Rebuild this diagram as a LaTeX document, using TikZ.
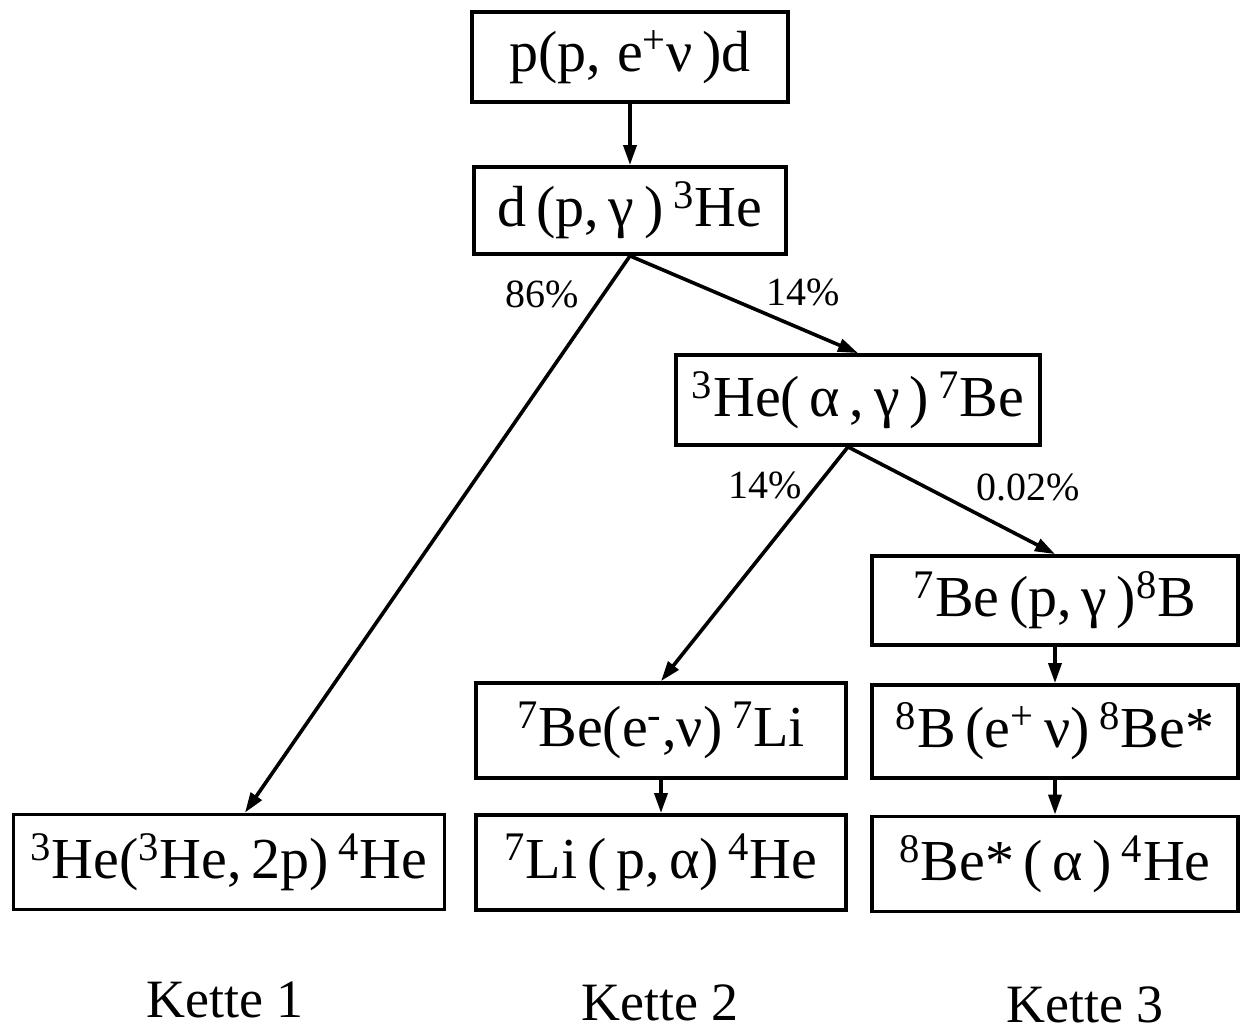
\documentclass[tikz,border=0pt]{standalone}
\usepackage{fontspec}
\setmainfont{Liberation Serif}
\usetikzlibrary{arrows.meta,calc}
\newcommand\up[1]{\textsuperscript{#1}}
\begin{document}
\begin{tikzpicture}[x=0.5pt,y=-0.5pt,
  rbox/.style 2 args={draw, line width=1.9pt, inner sep=0pt,
    minimum width=#1*0.5pt, minimum height=#2*0.5pt,
    font=\fontsize{29}{34}\selectfont},
  pct/.style={font=\fontsize{20}{24}\selectfont, inner sep=0pt},
  chain/.style={font=\fontsize{27}{32}\selectfont, inner sep=0pt},
  arr/.style={line width=1.8pt, -{Triangle[length=10pt,width=6.5pt]}}]
\useasboundingbox (0,0) rectangle (1244,1032);
\node[rbox={316}{90}] (n1) at (630,57) {p(p,\;e\up{+}ν\,)d};
\node[rbox={312}{87}] (n2) at (630,210.5) {d\,(p,\,γ\,)\,\up{3}He};
\node[rbox={364}{90}] (n3) at (858,400) {\up{3}He(\,α\,,\,γ\,)\,\up{7}Be};
\node[rbox={366}{89}] (n4) at (1055,600.5) {\up{7}Be\,(p,\,γ\,)\up{8}B};
\node[rbox={370}{95}] (n5) at (661,730.5) {\up{7}Be(e\up{-},ν)\,\up{7}Li};
\node[rbox={366}{93}] (n6) at (1055,731.5) {\up{8}B\,(e\up{+}\,ν)\,\up{8}Be*};
\node[rbox={431}{95}] (n7) at (229,862) {\up{3}He(\up{3}He,\,2p)\,\up{4}He};
\node[rbox={370}{95}] (n8) at (661,862.5) {\up{7}Li\,(\,p,\,α)\,\up{4}He};
\node[rbox={366}{95}] (n9) at (1055,864) {\up{8}Be*\,(\,α\,)\,\up{4}He};

\draw[arr] (n1) -- (n2);
\draw[arr] (n2.south) -- ($(n7.north)+(16,0)$);
\draw[arr] (n2.south) -- (n3.north);
\draw[arr] ($(n3.south)+(-10,0)$) -- (n5.north);
\draw[arr] ($(n3.south)+(-10,0)$) -- (n4.north);
\draw[arr] (n4) -- (n6);
\draw[arr] (n5) -- (n8);
\draw[arr] (n6) -- (n9);

\node[pct] (p86) at (542,294) {86\%};
\node[pct] (p14a) at (803,292) {14\%};
\node[pct] (p14b) at (765,485) {14\%};
\node[pct] (p002) at (1028,487) {0.02\%};

\node[chain] (k1) at (225,1000) {Kette 1};
\node[chain] (k2) at (660,1003) {Kette 2};
\node[chain] (k3) at (1085,1005) {Kette 3};
\end{tikzpicture}
\end{document}
